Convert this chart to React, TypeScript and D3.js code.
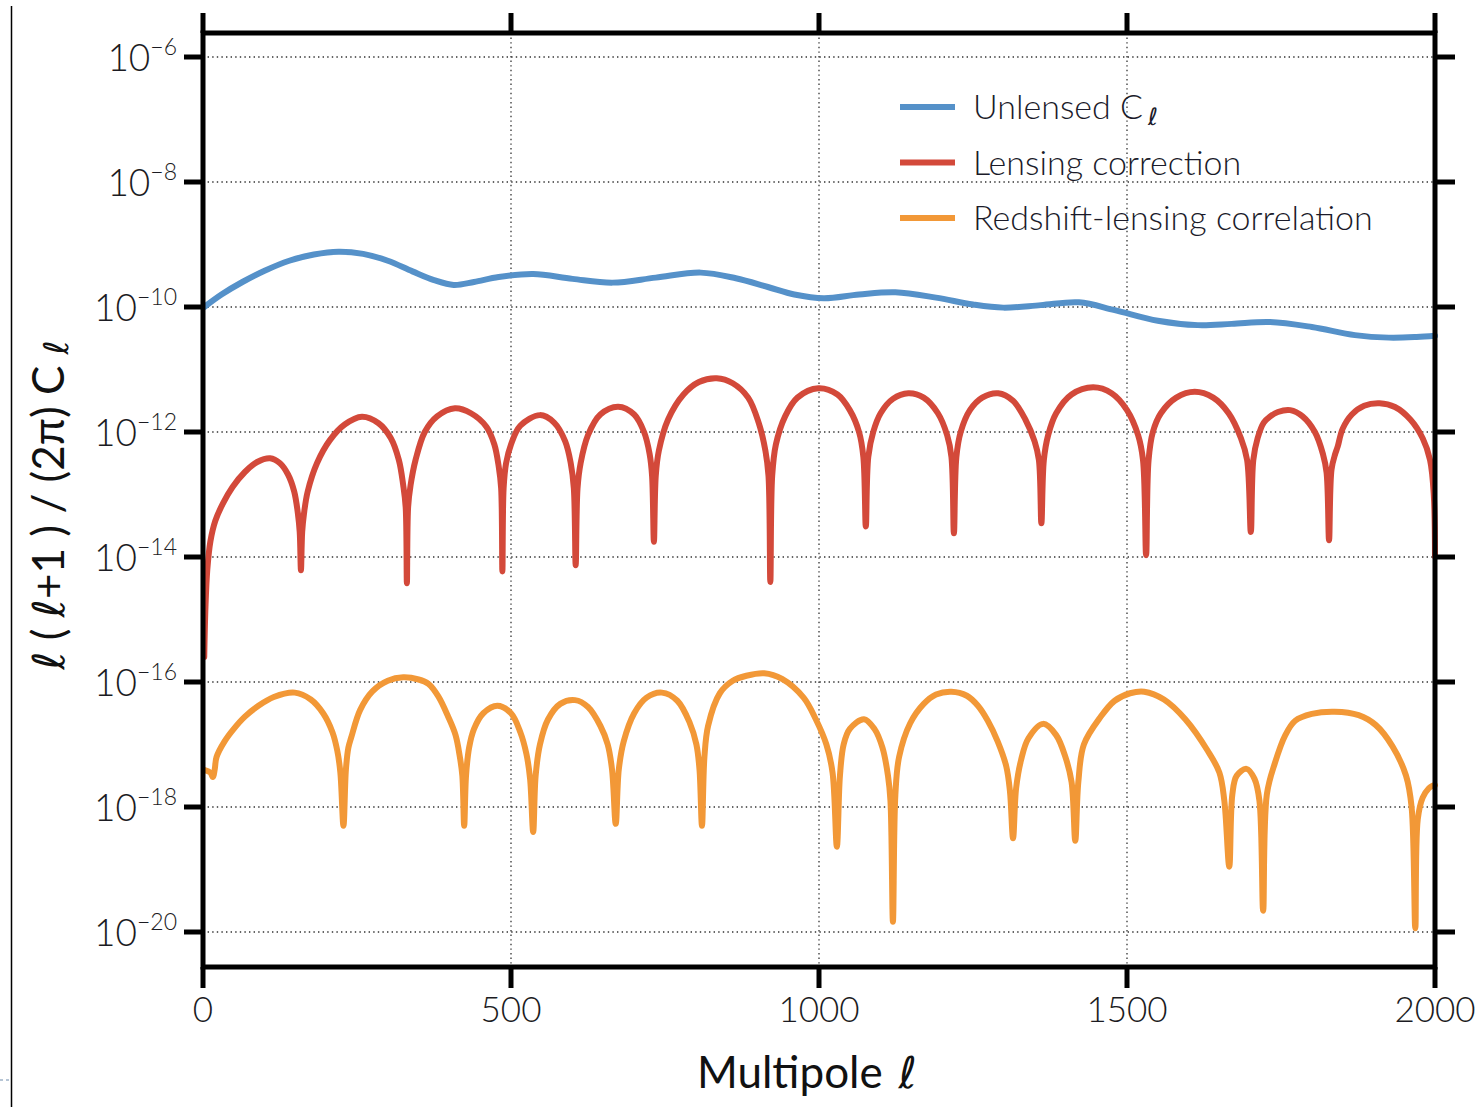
import React from 'react';
import * as d3 from 'd3';

// [multipole ℓ, log10 of ℓ(ℓ+1)C_ℓ/2π]
const unlensed: [number, number][] = [
  [2, -10.0], [30, -9.8], [64, -9.6], [100, -9.42], [140, -9.26], [180, -9.16],
  [220, -9.115], [260, -9.15], [300, -9.26], [340, -9.43], [375, -9.57], [407, -9.648],
  [440, -9.6], [480, -9.52], [536, -9.472], [600, -9.55], [665, -9.61], [735, -9.53],
  [808, -9.45], [865, -9.54], [917, -9.68], [960, -9.8], [1008, -9.86], [1065, -9.8],
  [1124, -9.765], [1190, -9.85], [1250, -9.96], [1299, -10.01], [1360, -9.97], [1422, -9.925],
  [1480, -10.05], [1550, -10.22], [1615, -10.29], [1670, -10.27], [1732, -10.24],
  [1800, -10.32], [1870, -10.45], [1925, -10.49], [1970, -10.48], [2000, -10.46],
];

const lensing: [number, number][] = [
  [2, -15.6], [4, -14.8], [7, -14.2], [12, -13.75], [20, -13.42], [32, -13.15], [48, -12.88],
  [68, -12.64], [88, -12.48], [109, -12.42], [125, -12.5], [138, -12.68], [148, -12.95],
  [154, -13.3], [157, -13.6], [159, -14.21], [161, -13.6], [164, -13.3], [170, -12.95],
  [185, -12.5], [206, -12.13], [230, -11.88], [258, -11.755], [285, -11.86], [305, -12.1],
  [318, -12.45], [325, -12.85], [329, -13.2], [331, -14.42], [333, -13.2], [337, -12.85],
  [345, -12.45], [360, -12.0], [380, -11.75], [409, -11.62], [435, -11.7], [460, -11.915],
  [473, -12.2], [480, -12.55], [484, -12.9], [486, -14.23], [488, -12.9], [492, -12.5],
  [500, -12.2], [515, -11.9], [547, -11.73], [570, -11.85], [588, -12.15], [597, -12.5],
  [602, -12.9], [605, -14.13], [608, -12.9], [613, -12.5], [625, -12.05], [645, -11.72],
  [674, -11.595], [700, -11.72], [716, -12.0], [725, -12.35], [729, -12.7], [732, -13.755],
  [735, -12.7], [740, -12.3], [755, -11.8], [780, -11.4], [805, -11.2], [834, -11.14],
  [860, -11.22], [885, -11.45], [902, -11.85], [913, -12.3], [918, -12.7], [921, -14.4],
  [924, -12.7], [930, -12.2], [945, -11.75], [965, -11.45], [999, -11.3], [1030, -11.4],
  [1050, -11.65], [1065, -12.0], [1072, -12.4], [1076, -13.51], [1080, -12.4], [1088, -12.0],
  [1100, -11.7], [1120, -11.47], [1145, -11.38], [1170, -11.45], [1193, -11.7], [1208, -12.05],
  [1215, -12.4], [1219, -13.62], [1223, -12.4], [1230, -12.0], [1245, -11.65], [1265, -11.45],
  [1291, -11.38], [1315, -11.5], [1335, -11.8], [1350, -12.15], [1357, -12.45], [1361, -13.46],
  [1365, -12.45], [1372, -12.05], [1385, -11.7], [1410, -11.4], [1445, -11.285], [1475, -11.38],
  [1500, -11.65], [1518, -12.05], [1526, -12.45], [1531, -13.97], [1535, -12.45], [1542, -12.0],
  [1555, -11.7], [1580, -11.45], [1610, -11.355], [1640, -11.45], [1665, -11.7], [1685, -12.1],
  [1695, -12.45], [1701, -13.6], [1705, -12.45], [1712, -12.1], [1722, -11.85], [1732, -11.755],
  [1745, -11.68], [1765, -11.65], [1785, -11.75], [1805, -12.0], [1818, -12.35], [1824, -12.65],
  [1828, -13.73], [1832, -12.6], [1838, -12.35], [1842, -12.235], [1850, -11.95], [1865, -11.72],
  [1885, -11.58], [1910, -11.54], [1935, -11.6], [1960, -11.8], [1980, -12.1], [1992, -12.45],
  [1998, -13.0], [2000, -13.99],
];

const redshiftLensing: [number, number][] = [
  [3, -17.41], [12, -17.45], [16, -17.52], [19, -17.4], [22, -17.2], [35, -16.95],
  [50, -16.75], [68, -16.555], [90, -16.38], [115, -16.24], [149, -16.17], [175, -16.28],
  [195, -16.5], [210, -16.8], [218, -17.1], [223, -17.45], [228, -18.3], [232, -17.4],
  [236, -17.05], [241, -16.875], [255, -16.45], [275, -16.15], [300, -15.98], [325, -15.925],
  [350, -15.96], [366, -16.03], [382, -16.23], [398, -16.555], [410, -16.85], [417, -17.2],
  [421, -17.5], [424, -18.3], [427, -17.5], [432, -17.05], [440, -16.75], [455, -16.5],
  [478, -16.38], [500, -16.5], [515, -16.8], [525, -17.15], [531, -17.55], [536, -18.4],
  [540, -17.5], [547, -17.0], [560, -16.6], [580, -16.35], [604, -16.29], [625, -16.4],
  [645, -16.7], [657, -17.0], [664, -17.4], [670, -18.27], [675, -17.4], [683, -16.95],
  [700, -16.5], [720, -16.25], [745, -16.17], [770, -16.3], [790, -16.65], [801, -17.0],
  [806, -17.4], [810, -18.3], [814, -17.2], [820, -16.7], [839, -16.18], [860, -15.98],
  [882, -15.9], [911, -15.86], [940, -15.95], [975, -16.25], [995, -16.6], [1012, -17.0],
  [1022, -17.45], [1029, -18.635], [1034, -17.5], [1040, -17.0], [1050, -16.75], [1073, -16.595],
  [1090, -16.75], [1103, -17.05], [1112, -17.5], [1116, -17.9], [1120, -19.835], [1124, -17.8],
  [1130, -17.2], [1148, -16.66], [1170, -16.35], [1190, -16.2], [1215, -16.155], [1240, -16.22],
  [1258, -16.38], [1274, -16.62], [1290, -16.95], [1304, -17.35], [1310, -17.75], [1315, -18.5],
  [1320, -17.7], [1328, -17.25], [1340, -16.9], [1364, -16.67], [1385, -16.85], [1400, -17.2],
  [1410, -17.6], [1416, -18.54], [1421, -17.6], [1430, -17.0], [1457, -16.56], [1480, -16.3],
  [1505, -16.18], [1528, -16.155], [1560, -16.28], [1595, -16.6], [1631, -17.1], [1650, -17.45],
  [1658, -17.9], [1666, -18.955], [1671, -17.8], [1678, -17.5], [1694, -17.39], [1707, -17.55],
  [1715, -17.9], [1721, -19.66], [1727, -17.8], [1740, -17.3], [1757, -16.85], [1773, -16.62],
  [1800, -16.51], [1837, -16.475], [1876, -16.53], [1904, -16.69], [1931, -17.03], [1953, -17.5],
  [1962, -18.0], [1968, -19.94], [1972, -18.2], [1980, -17.85], [1990, -17.7], [1996, -17.66],
  [2000, -17.65],
];

const series = [unlensed, lensing, redshiftLensing];
const seriesNames = ['Unlensed C', 'Lensing correction', 'Redshift-lensing correlation'];
const seriesColors = ['#5591c9', '#d3493a', '#f29837'];

const xTicks = [0, 500, 1000, 1500, 2000];
const xTickLabels = ['0', '500', '1000', '1500', '2000'];
const yTickExps = [-6, -8, -10, -12, -14, -16, -18, -20];

const W = 1480;
const H = 1107;
const left = 203, right = 1435, top = 33, bottom = 967;
const FONT = 'Lato, "Open Sans", sans-serif';
const ELL = '"DejaVu Sans", sans-serif';

export default function App() {
  const x = d3.scaleLinear().domain([0, 2000]).range([left, right]);
  const y = d3.scaleLog().domain([10 ** -20.56, 10 ** -5.616]).range([bottom, top]);

  const line = d3.line<[number, number]>()
    .x(d => x(d[0]))
    .y(d => y(10 ** d[1]))
    .curve(d3.curveCatmullRom.alpha(0.5));

  return (
    <svg width={W} height={H} style={{ position: 'absolute', left: 0, top: 0, background: '#fff' }}>
      {/* stray page edge from the screenshot */}
      <line x1={11.5} x2={11.5} y1={6} y2={H} stroke="#000" strokeWidth={1.5} />
      <line x1={0} x2={10} y1={1080} y2={1080} stroke="#9fb3c8" strokeWidth={1.5} strokeDasharray="3 3" />

      {/* grid */}
      <g stroke="#333" strokeWidth={1.3} strokeDasharray="1.4 3.2">
        {yTickExps.map(e => (
          <line key={'gy' + e} x1={left} x2={right} y1={y(10 ** e)} y2={y(10 ** e)} />
        ))}
        {xTicks.slice(1, -1).map(t => (
          <line key={'gx' + t} x1={x(t)} x2={x(t)} y1={top} y2={bottom} />
        ))}
      </g>

      {/* curves */}
      {series.map((s, i) => (
        <path key={i} d={line(s) || ''} fill="none" stroke={seriesColors[i]}
          strokeWidth={6} strokeLinejoin="round" strokeLinecap="round" />
      ))}

      {/* frame and ticks */}
      <rect x={left} y={top} width={right - left} height={bottom - top}
        fill="none" stroke="#000" strokeWidth={5} />
      <g stroke="#000" strokeWidth={5}>
        {xTicks.map(t => (
          <g key={'xt' + t}>
            <line x1={x(t)} x2={x(t)} y1={bottom} y2={bottom + 21} />
            <line x1={x(t)} x2={x(t)} y1={top} y2={top - 20} />
          </g>
        ))}
        {yTickExps.map(e => (
          <g key={'yt' + e}>
            <line x1={left} x2={left - 19} y1={y(10 ** e)} y2={y(10 ** e)} />
            <line x1={right} x2={right + 20} y1={y(10 ** e)} y2={y(10 ** e)} />
          </g>
        ))}
      </g>

      {/* tick labels */}
      <g fontFamily={FONT} fontWeight={300} fill="#1b1b22">
        {xTicks.map((t, i) => (
          <text key={'xl' + t} x={x(t)} y={bottom + 55} fontSize={35} textAnchor="middle">
            {xTickLabels[i]}
          </text>
        ))}
        {yTickExps.map(e => (
          <text key={'yl' + e} x={177} y={y(10 ** e) + 14} fontSize={37} textAnchor="end">
            10<tspan dy={-16} fontSize={23}>{'\u2212' + Math.abs(e)}</tspan>
          </text>
        ))}
      </g>

      {/* axis titles */}
      <text x={697} y={1088} fontFamily={FONT} fontSize={44} fill="#111">
        Multipole<tspan dx={16} fontFamily={ELL} fontStyle="italic">ℓ</tspan>
      </text>
      <text transform="translate(64,505) rotate(-90)" textAnchor="middle"
        fontFamily={FONT} fontSize={44} fill="#111">
        <tspan fontFamily={ELL} fontStyle="italic">ℓ</tspan>
        {' ( '}
        <tspan fontFamily={ELL} fontStyle="italic">ℓ</tspan>
        {'+1 ) / (2π)  C '}
        <tspan fontFamily={ELL} fontStyle="italic" fontSize={34} dy={4}>ℓ</tspan>
      </text>

      {/* legend */}
      <g fontFamily={FONT} fontWeight={300} fill="#1b1b2a">
        {seriesNames.map((n, i) => (
          <g key={n} transform={`translate(0,${107 + i * 55.5})`}>
            <line x1={900} x2={955} y1={0} y2={0} stroke={seriesColors[i]} strokeWidth={6} />
            <text x={973} y={12} fontSize={34}>
              {n}
              {i === 0 && <tspan dx={5} dy={6} fontSize={24} fontFamily={ELL} fontStyle="italic">ℓ</tspan>}
            </text>
          </g>
        ))}
      </g>
    </svg>
  );
}
